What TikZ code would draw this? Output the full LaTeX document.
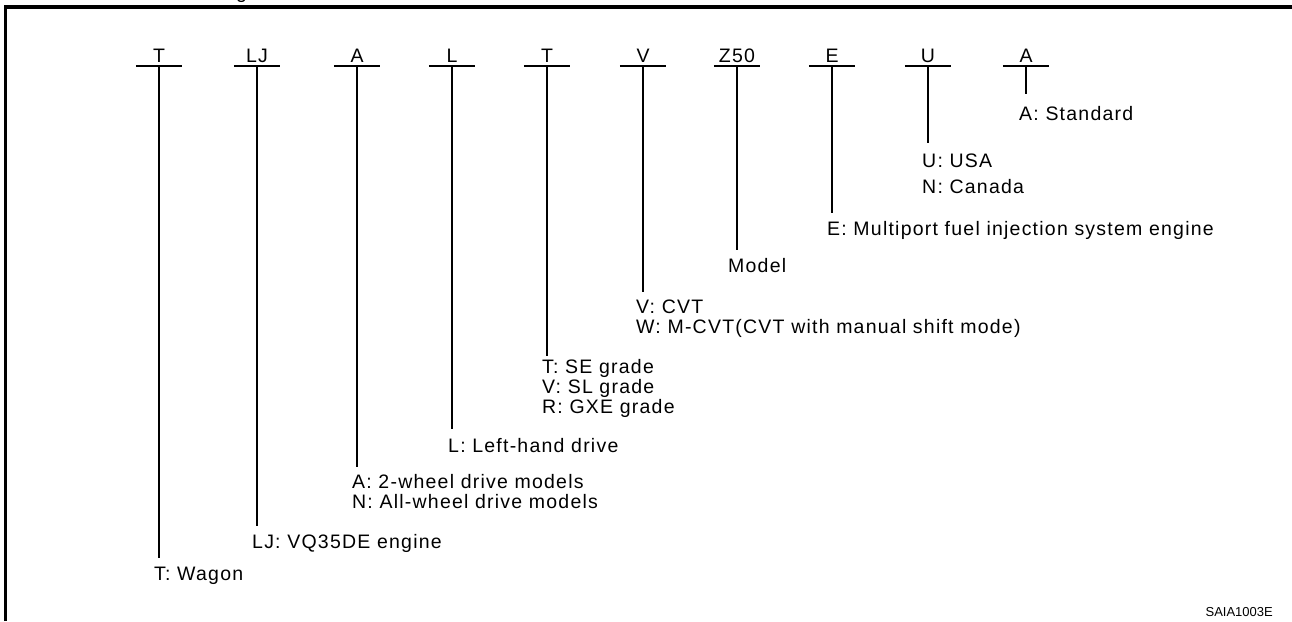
\documentclass[tikz,border=0pt]{standalone}
\usepackage{fontspec}
\setmainfont{Liberation Sans}[LetterSpace=6.3]
\newfontfamily\tagfont{Liberation Sans}
\begin{document}
\begin{tikzpicture}[x=1pt,y=-1pt,
  code/.style={anchor=south, inner sep=0pt, minimum width=46pt, text depth=3pt, font=\fontsize{19.5}{21}\selectfont},
  lab/.style={anchor=base west, inner sep=0pt, font=\fontsize{19.5}{21}\selectfont},
  stem/.style={line width=1.7pt},
  frame/.style={line width=3.6pt}]
\useasboundingbox (0,0) rectangle (1292,621);
% frame
\coordinate (fb) at (5.5,621);
\coordinate (fc) at (5.5,7);
\coordinate (fr) at (1292,7);
\draw[frame] (fb) -- (fc) -- (fr);
\node[lab] (frag) at (236,-1.5) {g};
% code letters with stems
\foreach \n/\x/\t/\e in {1/159/T/558, 2/257/LJ/526, 3/357/A/467, 4/452/L/429, 5/547/T/356,
                         6/643/V/292, 7/737/Z50/250, 8/832/E/213, 9/928/U/143, 10/1026/A/94}{
  \node[code] (c\n) at (\x,66) {\t};
  \coordinate (e\n) at (\x,\e);
  \draw[stem] (c\n.south west) -- (c\n.south east);
  \draw[stem] (c\n.south) -- (e\n);
}
% labels
\node[lab] (l1)  at (154,580) {T: Wagon};
\node[lab] (l2)  at (252,548) {LJ: VQ35DE engine};
\node[lab] (l3a) at (352,488) {A: 2-wheel drive models};
\node[lab] (l3b) at (352,508) {N: All-wheel drive models};
\node[lab] (l4)  at (448,452) {L: Left-hand drive};
\node[lab] (l5a) at (542,373) {T: SE grade};
\node[lab] (l5b) at (542,393) {V: SL grade};
\node[lab] (l5c) at (542,413) {R: GXE grade};
\node[lab] (l6a) at (636,313) {V: CVT};
\node[lab] (l6b) at (636,333) {W: M-CVT(CVT with manual shift mode)};
\node[lab] (l7)  at (728,272) {Model};
\node[lab] (l8)  at (827,235) {E: Multiport fuel injection system engine};
\node[lab] (l9a) at (922,167) {U: USA};
\node[lab] (l9b) at (922,193) {N: Canada};
\node[lab] (l10) at (1019,120) {A: Standard};
\node[anchor=base east, inner sep=0pt, font=\tagfont\fontsize{13}{15}\selectfont] (tag) at (1273,616) {SAIA1003E};
\end{tikzpicture}
\end{document}
